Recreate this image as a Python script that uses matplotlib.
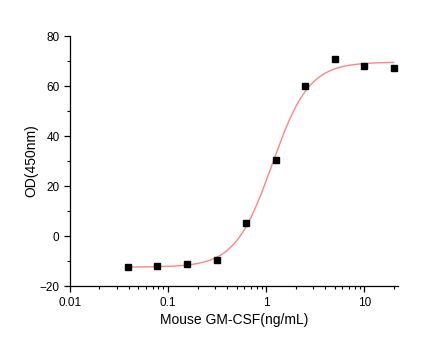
import numpy as np
import matplotlib
matplotlib.use('Agg')
import matplotlib.pyplot as plt
from matplotlib.ticker import LogLocator, MultipleLocator, FixedLocator

plt.rcParams['font.family'] = ['Liberation Sans', 'DejaVu Sans']

# concentrations (ng/mL) and measured OD
conc = [0.039, 0.078, 0.156, 0.3125, 0.625, 1.25, 2.5, 5, 10, 20]
od = [-12.2, -12.0, -11.3, -9.6, 5.2, 30.4, 60.1, 70.8, 67.9, 67.2]

# 4PL fit parameters
bottom = -12.4
top = 69.6
ec50 = 1.15
hill = 2.3

fig = plt.figure(figsize=(4.45, 3.41), dpi=100)
ax = fig.add_axes([0.157, 0.161, 0.737, 0.733])

xs = np.logspace(np.log10(conc[0]), np.log10(conc[-1]), 300)
ys = bottom + (top - bottom) / (1 + (ec50 / xs) ** hill)
ax.plot(xs, ys, color='#ff8585', lw=1.0)
ax.plot(conc, od, 's', color='black', ms=4.2)

ax.set_xscale('log')
ax.set_xlim(0.01, 22)
ax.set_ylim(-20, 80)
ax.xaxis.set_major_locator(FixedLocator([0.01, 0.1, 1, 10]))
ax.set_xticklabels(['0.01', '0.1', '1', '10'])
ax.xaxis.set_minor_locator(LogLocator(base=10, subs=np.arange(2, 10)))
ax.yaxis.set_major_locator(MultipleLocator(20))
ax.yaxis.set_minor_locator(MultipleLocator(10))

for s in ['top', 'right']:
    ax.spines[s].set_visible(False)
for s in ['left', 'bottom']:
    ax.spines[s].set_linewidth(0.9)
ax.tick_params(which='major', direction='out', length=4, width=0.9, labelsize=8.5)
ax.tick_params(which='minor', direction='out', length=2.5, width=0.8)

ax.set_xlabel('Mouse GM-CSF(ng/mL)', fontsize=10, labelpad=3)
ax.set_ylabel('OD(450nm)', fontsize=10, labelpad=1)

plt.savefig('out.png', dpi=100)
